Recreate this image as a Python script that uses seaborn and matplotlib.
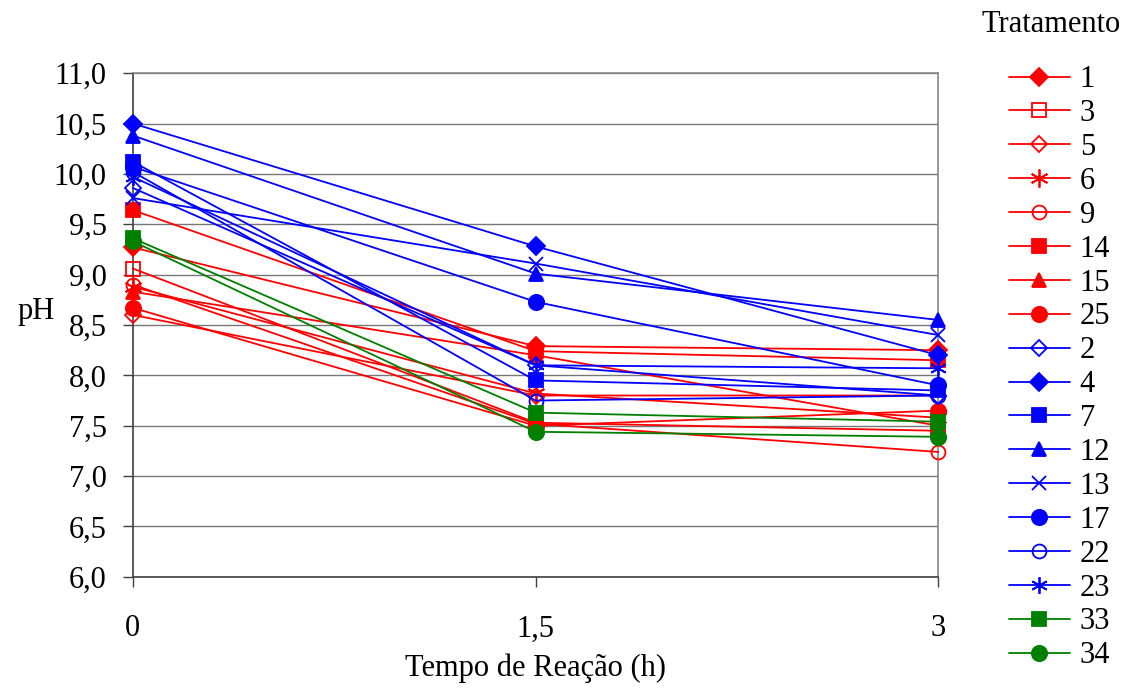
import matplotlib
matplotlib.use("Agg")
import matplotlib.pyplot as plt
import seaborn as sns
import pandas as pd
from matplotlib.ticker import FuncFormatter, MultipleLocator

sns.set_theme(style="white")
plt.rcParams['font.family'] = ['Liberation Serif', 'DejaVu Serif']
plt.rcParams['text.color'] = 'black'
plt.rcParams['axes.labelcolor'] = 'black'
plt.rcParams['xtick.color'] = 'black'
plt.rcParams['ytick.color'] = 'black'

times = [0, 1.5, 3]
treatments = ["1", "3", "5", "6", "9", "14", "15", "25",
              "2", "4", "7", "12", "13", "17", "22", "23", "33", "34"]
t1 = [9.27, 8.29, 8.25]
t3 = [9.06, 7.53, 7.45]
t5 = [8.60, 7.80, 7.80]
t6 = [8.88, 7.82, 7.58]
t9 = [8.90, 7.52, 7.24]
t14 = [9.64, 8.24, 8.15]
t15 = [8.83, 8.20, 7.50]
t25 = [8.67, 7.50, 7.65]
t2 = [9.86, 8.10, 7.80]
t4 = [10.50, 9.28, 8.20]
t7 = [10.12, 7.95, 7.85]
t12 = [10.38, 9.01, 8.55]
t13 = [9.76, 9.11, 8.40]
t17 = [10.07, 8.73, 7.90]
t22 = [10.02, 7.75, 7.80]
t23 = [9.97, 8.10, 8.07]
t33 = [9.36, 7.63, 7.54]
t34 = [9.33, 7.44, 7.39]
values = [t1, t3, t5, t6, t9, t14, t15, t25,
          t2, t4, t7, t12, t13, t17, t22, t23, t33, t34]

RED, BLUE, GREEN = "#FF0000", "#0000FF", "#008000"
AST = (6, 2, 0)
styles = {
    "1": (RED, "D", True, 9), "3": (RED, "s", False, 10), "5": (RED, "D", False, 8),
    "6": (RED, AST, False, 13), "9": (RED, "o", False, 10), "14": (RED, "s", True, 10),
    "15": (RED, "^", True, 10), "25": (RED, "o", True, 11),
    "2": (BLUE, "D", False, 8), "4": (BLUE, "D", True, 9), "7": (BLUE, "s", True, 10),
    "12": (BLUE, "^", True, 10), "13": (BLUE, "x", False, 10), "17": (BLUE, "o", True, 11),
    "22": (BLUE, "o", False, 10), "23": (BLUE, AST, False, 12),
    "33": (GREEN, "s", True, 10), "34": (GREEN, "o", True, 11),
}

FS = 22
fig = plt.figure(figsize=(11.36, 6.9), dpi=100)
ax = fig.add_axes([0.117, 0.164, 0.709, 0.730])

for name, vals in zip(treatments, values):
    c, m, filled, ms = styles[name]
    df = pd.DataFrame({"t": times, "pH": vals})
    sns.lineplot(data=df, x="t", y="pH", ax=ax, color=c, marker=m, markersize=ms,
                 markerfacecolor=c if filled else "none", markeredgecolor=c,
                 markeredgewidth=1.3, linewidth=1.3, label=name, clip_on=False, zorder=3)

ax.set_xlim(0, 3)
ax.set_ylim(6.0, 11.0)
ax.set_xticks(times)
ax.yaxis.set_major_locator(MultipleLocator(0.5))
fmt = lambda v, p: (f"{v:.1f}".replace(".", ",") if abs(v - round(v)) > 1e-9 else f"{int(round(v))}")
ax.xaxis.set_major_formatter(FuncFormatter(fmt))
ax.yaxis.set_major_formatter(FuncFormatter(lambda v, p: f"{v:.1f}".replace(".", ",")))
ax.grid(axis="y", color="#777777", linewidth=1.0)
ax.grid(axis="x", visible=False)
for s in ["top", "right"]:
    ax.spines[s].set_color("#888888")
    ax.spines[s].set_linewidth(1.2)
for s in ["left", "bottom"]:
    ax.spines[s].set_color("#404040")
    ax.spines[s].set_linewidth(1.2)
ax.tick_params(axis="both", which="major", labelsize=FS, length=7, width=1.0,
               color="#404040", direction="out", left=True, bottom=True)
ax.tick_params(axis="x", pad=20)
ax.tick_params(axis="y", pad=12)
ax.set_xlabel("Tempo de Reação (h)", fontsize=FS, labelpad=7)
ax.set_ylabel("pH", fontsize=FS, rotation=0, va="center", ha="center")
ax.yaxis.set_label_coords(-0.12, 0.526)

leg = ax.legend(loc="upper left", bbox_to_anchor=(1.072, 1.04), frameon=False,
                fontsize=FS, handlelength=2.0, handletextpad=0.33, labelspacing=0.16,
                borderaxespad=0.0)
fig.text(0.864, 0.964, "Tratamento", fontsize=FS, ha="left", va="center")

fig.savefig("out.png", dpi=100)
